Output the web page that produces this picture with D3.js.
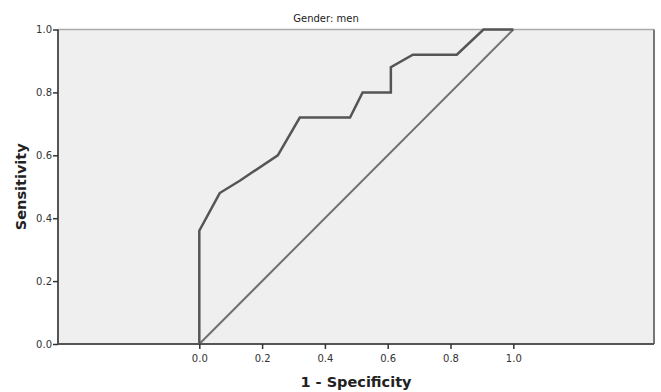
<!DOCTYPE html>
<html><head><meta charset="utf-8">
<script src="https://cdn.jsdelivr.net/npm/d3@7"></script>
<style>body{margin:0;background:#fff;} svg{display:block;}</style>
</head><body>
<script>
const titleText = "Gender: men";
const xLabel = "1 - Specificity";
const yLabel = "Sensitivity";
const fpr = [0, 0, 0.065, 0.13, 0.25, 0.32, 0.48, 0.52, 0.61, 0.61, 0.68, 0.82, 0.905, 1.0];
const sens = [0, 0.36, 0.48, 0.52, 0.60, 0.72, 0.72, 0.80, 0.80, 0.88, 0.92, 0.92, 1.0, 1.0];
const refX = [0, 1];
const refY = [0, 1];
const xTicks = [0, 0.2, 0.4, 0.6, 0.8, 1.0];
const yTicks = [0, 0.2, 0.4, 0.6, 0.8, 1.0];

const W = 661, H = 392;
const L = 58, R = 654, T = 29.5, B = 344;
const svg = d3.select("body").append("svg").attr("width", W).attr("height", H);
const x = d3.scaleLinear().domain([-0.45, 1.448]).range([L, R]);
const y = d3.scaleLinear().domain([0, 1]).range([B, T]);
const font = "'DejaVu Sans', sans-serif";

svg.append("rect").attr("x", L).attr("y", T).attr("width", R - L).attr("height", B - T).attr("fill", "#efefef");
svg.append("line").attr("x1", L).attr("x2", R).attr("y1", T).attr("y2", T).attr("stroke", "#aaa").attr("stroke-width", 1.5);
svg.append("line").attr("x1", R).attr("x2", R).attr("y1", T).attr("y2", B).attr("stroke", "#777").attr("stroke-width", 2);

const line = d3.line().x(d => x(d[0])).y(d => y(d[1]));
svg.append("path").datum(refX.map((v, i) => [v, refY[i]])).attr("d", line)
  .attr("fill", "none").attr("stroke", "#707070").attr("stroke-width", 2);
svg.append("path").datum(fpr.map((v, i) => [v, sens[i]])).attr("d", line)
  .attr("fill", "none").attr("stroke", "#555").attr("stroke-width", 2.5).attr("stroke-linejoin", "miter");

const xAxis = d3.axisBottom(x).tickValues(xTicks).tickFormat(d3.format(".1f")).tickSize(5).tickSizeOuter(0);
const gx = svg.append("g").attr("transform", `translate(0,${B})`).call(xAxis);
gx.select(".domain").attr("d", `M${L},0H${R}`).attr("stroke", "#555").attr("stroke-width", 2);
gx.selectAll(".tick line").attr("stroke", "#333").attr("stroke-width", 1.5);
gx.selectAll(".tick text").attr("font-family", font).attr("font-size", 10).attr("fill", "#333").attr("dy", "0.95em");

const yAxis = d3.axisLeft(y).tickValues(yTicks).tickFormat(d3.format(".1f")).tickSize(5).tickSizeOuter(0);
const gy = svg.append("g").attr("transform", `translate(${L},0)`).call(yAxis);
gy.select(".domain").attr("d", `M0,${B}V${T}`).attr("stroke", "#555").attr("stroke-width", 2);
gy.selectAll(".tick line").attr("stroke", "#333").attr("stroke-width", 1.5);
gy.selectAll(".tick text").attr("font-family", font).attr("font-size", 10).attr("fill", "#333").attr("x", -6);

svg.append("text").attr("x", 326).attr("y", 22).attr("text-anchor", "middle")
  .attr("font-family", font).attr("font-size", 10).attr("fill", "#222").text(titleText);
svg.append("text").attr("x", (L + R) / 2).attr("y", 387).attr("text-anchor", "middle")
  .attr("font-family", font).attr("font-size", 14.5).attr("font-weight", "bold").attr("fill", "#222").text(xLabel);
svg.append("text").attr("transform", `translate(26,${(T + B) / 2}) rotate(-90)`).attr("text-anchor", "middle")
  .attr("font-family", font).attr("font-size", 14.5).attr("font-weight", "bold").attr("fill", "#222").text(yLabel);
</script>
</body></html>
